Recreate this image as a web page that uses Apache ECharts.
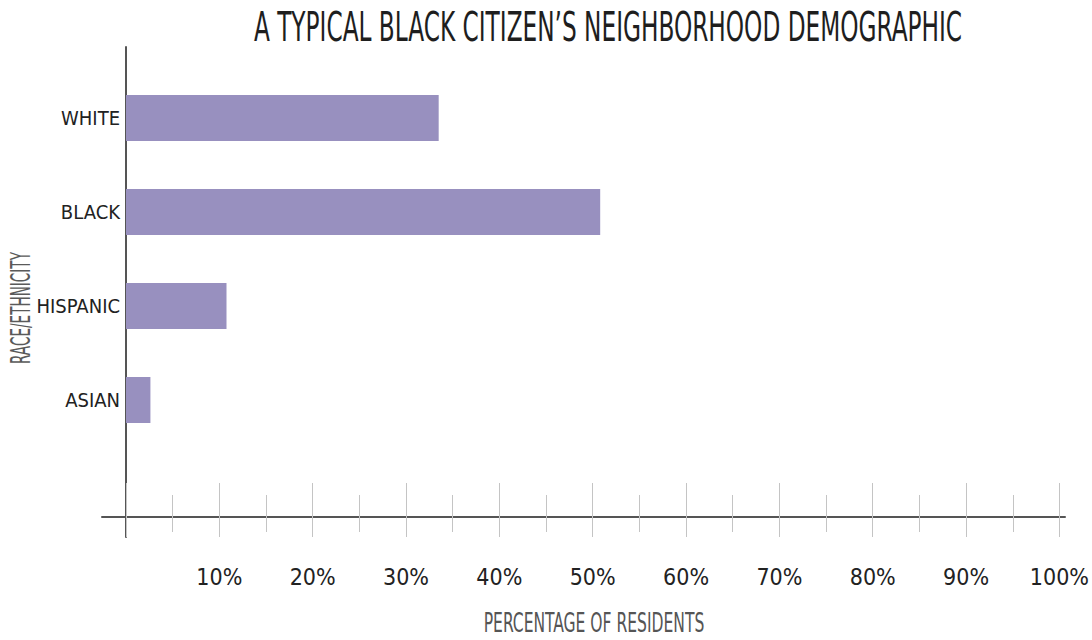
<!DOCTYPE html>
<html>
<head>
<meta charset="utf-8">
<script src="https://cdn.jsdelivr.net/npm/echarts@6/dist/echarts.min.js"></script>
<style>html,body{margin:0;padding:0;background:#fff}#c{width:1092px;height:640px}</style>
</head>
<body>
<div id="c"></div>
<script>
const titleText = 'A TYPICAL BLACK CITIZEN\u2019S NEIGHBORHOOD DEMOGRAPHIC';
const categories = ['WHITE', 'BLACK', 'HISPANIC', 'ASIAN'];
const values = [33.3, 50.5, 10.7, 2.6];
const xAxisName = 'PERCENTAGE OF RESIDENTS';
const yAxisName = 'RACE/ETHNICITY';
const xMin = 0, xMax = 100, xStep = 10;

const FONT = "'DejaVu Sans Condensed', 'Liberation Sans Narrow', 'DejaVu Sans', sans-serif";
const chart = echarts.init(document.getElementById('c'), null, {renderer: 'svg'});
const hidden = {show: false};
chart.setOption({
  animation: false,
  backgroundColor: '#fff',
  graphic: [
    {type: 'text', x: 608, y: 27, scaleX: 0.63, z: 10,
      style: {text: titleText, fontFamily: FONT, fontSize: 41, fill: '#1e1e1e', align: 'center', verticalAlign: 'middle'}},
    {type: 'text', x: 594, y: 622, scaleX: 0.64, z: 10,
      style: {text: xAxisName, fontFamily: FONT, fontSize: 27, fill: '#555', align: 'center', verticalAlign: 'middle'}},
    {type: 'text', x: 21, y: 308, rotation: Math.PI / 2, scaleX: 0.56, z: 10,
      style: {text: yAxisName, fontFamily: FONT, fontSize: 27, fill: '#5a5a5a', align: 'center', verticalAlign: 'middle'}}
  ],
  grid: [
    {left: 126, right: 27, top: 71, height: 376},
    {left: 126, right: 27, top: 47, height: 470},
    {left: 102, right: 27, top: 99, height: 418},
    {left: 126, right: 27, top: 47, height: 490}
  ],
  xAxis: [
    {gridIndex: 0, type: 'value', min: xMin, max: xMax, show: false},
    {gridIndex: 1, type: 'value', position: 'bottom', min: xMin, max: xMax, interval: xStep,
      axisLine: {show: false}, splitLine: {show: false},
      axisTick: {show: true, inside: true, length: 34, lineStyle: {color: '#c4c4c4', width: 1}},
      minorTick: {show: true, splitNumber: 2, length: 22, lineStyle: {color: '#c4c4c4', width: 1}},
      axisLabel: {margin: 48, fontFamily: FONT, fontSize: 23, color: '#222',
        formatter: v => v === 0 ? '' : v + '%'}
    },
    {gridIndex: 1, type: 'value', position: 'bottom', offset: 0, min: xMin, max: xMax, interval: xStep,
      axisLine: {show: false}, splitLine: {show: false}, axisLabel: {show: false},
      axisTick: {show: true, inside: false, length: 20, lineStyle: {color: '#c4c4c4', width: 1}},
      minorTick: {show: true, splitNumber: 2, length: 15, lineStyle: {color: '#c4c4c4', width: 1}}
    },
    {gridIndex: 2, type: 'value', position: 'bottom', min: xMin, max: xMax,
      axisLine: {show: true, onZero: false, lineStyle: {color: '#555', width: 2}},
      axisTick: hidden, axisLabel: hidden, splitLine: hidden},
    {gridIndex: 3, type: 'value', min: xMin, max: xMax, show: false}
  ],
  yAxis: [
    {gridIndex: 0, type: 'category', inverse: true, data: categories,
      axisLine: {show: false}, axisTick: {show: false},
      axisLabel: {margin: 6, fontFamily: FONT, fontSize: 20, color: '#222'}},
    {gridIndex: 1, type: 'value', show: false},
    {gridIndex: 2, type: 'value', show: false},
    {gridIndex: 3, type: 'value', position: 'left',
      axisLine: {show: true, onZero: false, lineStyle: {color: '#555', width: 2}},
      axisTick: hidden, axisLabel: hidden, splitLine: hidden}
  ],
  series: [{
    type: 'bar', xAxisIndex: 0, yAxisIndex: 0,
    data: values, barWidth: 46,
    itemStyle: {color: '#9890bf'}
  }]
});
</script>
</body>
</html>
